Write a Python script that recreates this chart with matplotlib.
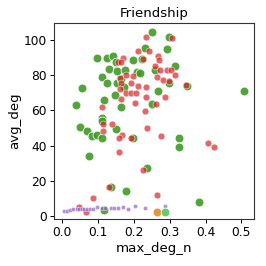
import matplotlib
matplotlib.use("Agg")
import matplotlib.pyplot as plt

# green points
green_x = [0.249, 0.298, 0.293, 0.231, 0.096, 0.124, 0.142, 0.150, 0.196, 0.223,
           0.131, 0.153, 0.175, 0.209, 0.216, 0.258, 0.314, 0.110, 0.124, 0.153,
           0.164, 0.173, 0.297, 0.349, 0.054, 0.507, 0.267, 0.147, 0.117, 0.037,
           0.163, 0.249, 0.110, 0.110, 0.049, 0.068, 0.084, 0.096, 0.111, 0.151,
           0.198, 0.325, 0.325, 0.075, 0.237, 0.136, 0.179, 0.381, 0.116]
green_y = [104.4, 101.5, 94.9, 95.6, 89.6, 89.6, 90.9, 87.7, 88.6, 89.2,
           83.3, 82.6, 82.8, 82.0, 81.4, 83.0, 85.2, 78.8, 75.4, 75.7,
           77.8, 73.1, 75.4, 73.9, 72.9, 71.2, 71.2, 68.8, 65.9, 62.9,
           61.8, 63.6, 55.5, 54.1, 50.7, 48.5, 45.6, 46.0, 44.1, 49.2,
           44.1, 44.1, 39.4, 34.3, 27.4, 16.6, 14.2, 8.1, 3.4]

# red points
red_x = [0.233, 0.306, 0.210, 0.242, 0.170, 0.156, 0.165, 0.226, 0.267, 0.269,
         0.258, 0.274, 0.291, 0.303, 0.179, 0.198, 0.161, 0.265, 0.314, 0.281,
         0.297, 0.163, 0.191, 0.212, 0.235, 0.345, 0.161, 0.177, 0.191, 0.205,
         0.235, 0.286, 0.164, 0.203, 0.261, 0.110, 0.231, 0.114, 0.114, 0.140,
         0.168, 0.159, 0.191, 0.237, 0.275, 0.407, 0.423, 0.159, 0.226, 0.131,
         0.086, 0.265, 0.047, 0.066]
red_y = [101.5, 101.1, 93.8, 93.8, 90.0, 87.7, 87.7, 89.2, 91.1, 88.6,
         85.2, 83.0, 83.0, 83.0, 80.1, 79.5, 78.2, 78.8, 80.1, 77.3,
         76.9, 75.7, 75.7, 73.9, 73.5, 74.4, 72.0, 70.1, 70.1, 70.1,
         67.4, 67.8, 66.3, 64.0, 63.6, 62.1, 59.7, 52.3, 48.5, 52.3,
         46.0, 44.1, 44.1, 49.8, 45.6, 41.3, 39.4, 36.2, 26.1, 16.3,
         10.4, 11.9, 4.9, 2.1]

# purple points
purple_x = [0.005, 0.012, 0.021, 0.031, 0.040, 0.047, 0.054, 0.061, 0.068, 0.077,
            0.085, 0.096, 0.110, 0.119, 0.136, 0.144, 0.156, 0.170, 0.184, 0.203,
            0.231, 0.286]
purple_y = [2.8, 3.0, 3.4, 3.8, 3.8, 4.0, 4.0, 3.8, 3.8, 3.8,
            4.0, 4.9, 4.7, 4.7, 4.7, 4.7, 4.7, 5.3, 4.0, 5.5,
            4.5, 5.9]

# orange and light green
orange_x = [0.265]
orange_y = [2.4]
lgreen_x = [0.286]
lgreen_y = [2.4]

fig = plt.figure(figsize=(2.66, 2.66), dpi=100)
ax = fig.add_axes([0.203, 0.177, 0.752, 0.737])

ax.scatter(green_x, green_y, s=40, color='#3f9a25', alpha=0.9, edgecolor='white', linewidth=0.6)
ax.scatter(red_x, red_y, s=24, color='#d62728', alpha=0.7, edgecolor='white', linewidth=0.5)
ax.scatter(purple_x, purple_y, s=10, color='#9467bd', alpha=0.7, edgecolor='white', linewidth=0.4)
ax.scatter(orange_x, orange_y, s=40, color='#e08a2c', alpha=0.9, edgecolor='white', linewidth=0.6)
ax.scatter(lgreen_x, lgreen_y, s=40, color='#5cc25c', alpha=0.9, edgecolor='white', linewidth=0.6)

ax.set_xlim(-0.023, 0.535)
ax.set_ylim(-1.7, 109.7)
ax.set_xticks([0.0, 0.1, 0.2, 0.3, 0.4, 0.5])
ax.set_yticks([0, 20, 40, 60, 80, 100])
ax.tick_params(labelsize=8.8, length=3, width=0.7, pad=2)
for sp in ax.spines.values():
    sp.set_linewidth(0.8)
    sp.set_color('#333333')

ax.set_xlabel('max_deg_n', fontsize=9.6, labelpad=2)
ax.set_ylabel('avg_deg', fontsize=9.6, labelpad=2)
ax.set_title('Friendship', fontsize=9.6, pad=4)

plt.savefig('out.png', dpi=100)
